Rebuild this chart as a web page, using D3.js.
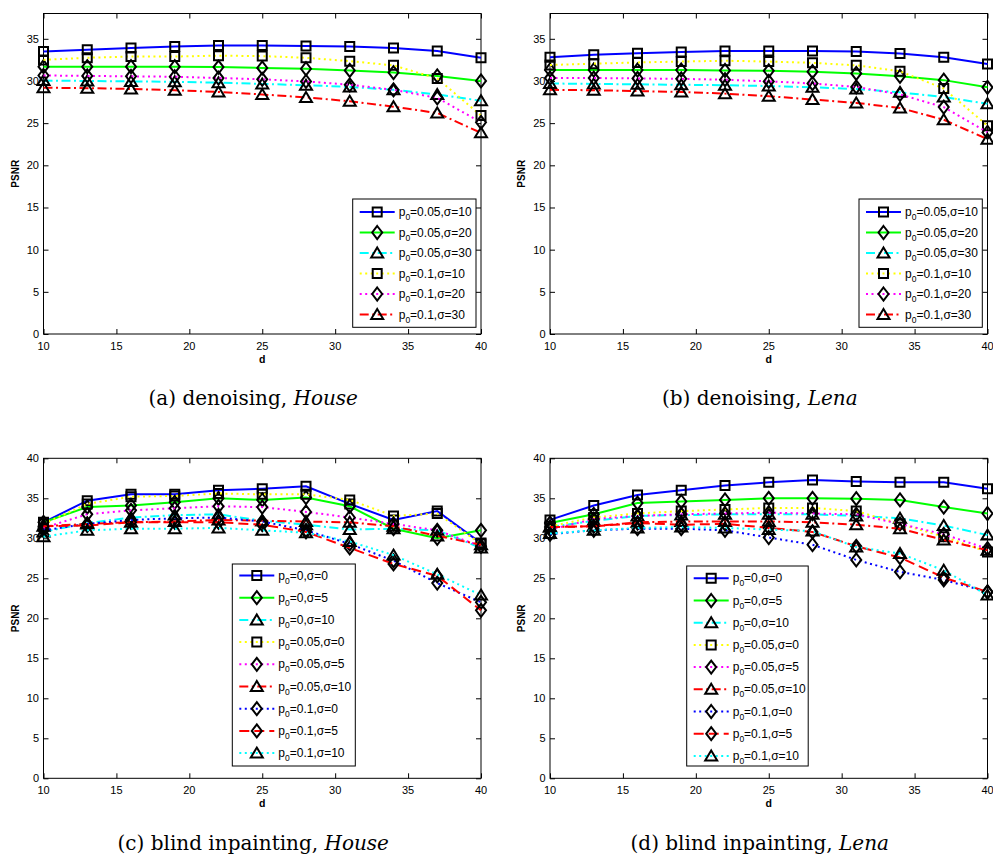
<!DOCTYPE html>
<html><head><meta charset="utf-8">
<script src="https://cdn.jsdelivr.net/npm/d3@7"></script>
<style>body{margin:0;background:#fff}</style>
</head><body>
<svg id="chart" width="993" height="859"></svg>
<script>
// ---------------- DATA ----------------
const dValues = [10, 13, 16, 19, 22, 25, 28, 31, 34, 37, 40];
const xTicks = [10, 15, 20, 25, 30, 35, 40];
const yTicksDenoise = [0, 5, 10, 15, 20, 25, 30, 35];
const yTicksInpaint = [0, 5, 10, 15, 20, 25, 30, 35, 40];

const denoiseP0 = ["0.05", "0.05", "0.05", "0.1", "0.1", "0.1"];
const denoiseSigma = ["10", "20", "30", "10", "20", "30"];
const inpaintP0 = ["0", "0", "0", "0.05", "0.05", "0.05", "0.1", "0.1", "0.1"];
const inpaintSigma = ["0", "5", "10", "0", "5", "10", "0", "5", "10"];

const denoiseHouse = [
  [33.5, 33.7, 33.9, 34.1, 34.2, 34.2, 34.15, 34.1, 33.9, 33.55, 32.75],
  [31.7, 31.7, 31.7, 31.7, 31.65, 31.55, 31.45, 31.25, 31.0, 30.6, 30.0],
  [30.05, 30.0, 29.95, 29.9, 29.8, 29.65, 29.5, 29.3, 28.95, 28.4, 27.65],
  [32.5, 32.75, 32.9, 32.9, 33.0, 32.95, 32.75, 32.35, 31.85, 30.3, 25.9],
  [30.65, 30.6, 30.55, 30.5, 30.35, 30.2, 29.95, 29.55, 28.95, 28.0, 25.1],
  [29.2, 29.15, 29.05, 28.9, 28.7, 28.4, 28.05, 27.6, 26.95, 26.2, 23.85]
];
const denoiseLena = [
  [32.8, 33.1, 33.3, 33.45, 33.55, 33.55, 33.55, 33.5, 33.25, 32.8, 32.0],
  [31.3, 31.3, 31.3, 31.3, 31.25, 31.2, 31.1, 30.9, 30.55, 30.1, 29.25],
  [29.7, 29.65, 29.6, 29.55, 29.5, 29.4, 29.25, 29.05, 28.65, 28.1, 27.3],
  [31.9, 32.05, 32.2, 32.3, 32.4, 32.3, 32.15, 31.85, 31.15, 29.1, 24.7],
  [30.35, 30.35, 30.3, 30.25, 30.15, 29.95, 29.7, 29.3, 28.4, 26.9, 23.9],
  [28.95, 28.9, 28.8, 28.7, 28.5, 28.2, 27.8, 27.4, 26.8, 25.4, 23.1]
];
const inpaintHouse = [
  [32.0, 34.7, 35.5, 35.5, 36.0, 36.2, 36.5, 34.3, 32.3, 33.4, 29.4],
  [32.0, 33.9, 34.1, 34.5, 35.0, 34.8, 35.1, 34.0, 31.2, 30.0, 31.0],
  [30.8, 31.9, 32.6, 32.9, 33.0, 32.2, 31.7, 31.1, 31.2, 31.0, 28.8],
  [31.8, 34.3, 35.2, 35.3, 35.6, 35.5, 35.5, 34.8, 32.8, 33.1, 29.3],
  [31.3, 33.0, 33.5, 33.75, 34.0, 33.9, 33.3, 32.6, 31.8, 31.0, 29.0],
  [31.5, 31.8, 32.0, 32.1, 32.3, 32.2, 32.1, 32.0, 31.5, 30.3, 29.2],
  [31.0, 31.8, 32.3, 32.5, 32.6, 32.1, 31.0, 29.3, 27.2, 24.4, 22.0],
  [31.5, 31.6, 32.0, 32.0, 32.0, 31.7, 30.8, 28.8, 26.8, 25.3, 21.0],
  [30.2, 31.0, 31.2, 31.2, 31.3, 31.0, 30.7, 29.6, 27.9, 25.5, 22.9]
];
const inpaintLena = [
  [32.3, 34.1, 35.4, 36.0, 36.6, 37.0, 37.3, 37.1, 37.0, 37.0, 36.2],
  [31.9, 33.0, 34.4, 34.6, 34.8, 35.0, 35.0, 34.95, 34.8, 33.9, 33.1],
  [31.4, 32.2, 32.8, 32.9, 33.0, 33.0, 33.0, 32.8, 32.5, 31.6, 30.4],
  [31.5, 32.6, 33.1, 33.4, 33.6, 33.8, 33.8, 33.4, 31.8, 30.2, 28.3],
  [31.1, 32.4, 32.8, 33.0, 33.1, 33.2, 33.1, 33.0, 31.8, 30.5, 28.7],
  [31.4, 31.5, 32.0, 32.1, 32.1, 32.1, 32.0, 31.7, 31.2, 29.8, 28.5],
  [30.5, 31.0, 31.2, 31.2, 31.0, 30.1, 29.2, 27.3, 25.8, 24.8, 23.3],
  [31.4, 31.5, 31.9, 31.7, 31.8, 31.3, 30.8, 29.0, 27.6, 25.1, 23.3],
  [30.6, 31.0, 31.3, 31.4, 31.3, 31.1, 30.9, 28.9, 28.1, 26.0, 22.9]
];

const captionTexts = ["(a) denoising, ", "(b) denoising, ", "(c) blind inpainting, ", "(d) blind inpainting, "];
const captionImages = ["House", "Lena", "House", "Lena"];
const xLabel = "d";
const yLabel = "PSNR";

// ---------------- STYLE ----------------
const denoiseColors = ["#0000ff", "#00ff00", "#00ffff", "#ffff00", "#ff00ff", "#ff0000"];
const denoiseDash = ["solid", "solid", "dashdot", "dot", "dot", "dashdot"];
const denoiseMarkers = ["square", "diamond", "triangle", "square", "diamond", "triangle"];
const inpaintColors = ["#0000ff", "#00ff00", "#00ffff", "#ffff00", "#ff00ff", "#ff0000", "#0000ff", "#ff0000", "#00ffff"];
const inpaintDash = ["solid", "solid", "dashdot", "dot", "dot", "dashdot", "dot", "dash", "dot"];
const inpaintMarkers = ["square", "diamond", "triangle", "square", "diamond", "triangle", "diamond", "diamond", "triangle"];

const dashArray = {solid: null, dashdot: "9,3.5,2,3.5", dot: "2,3.5", dash: "10,5"};
const markerPath = {
  square: "M-4.5,-4.5h9v9h-9Z",
  diamond: "M0,-6.5L5,0L0,6.5L-5,0Z",
  triangle: "M0,-5.5L6,4.5L-6,4.5Z"
};

const FONT = "'Liberation Sans', Arial, Helvetica, sans-serif";
const svg = d3.select("#chart");

const panels = [
  {data: denoiseHouse, p0: denoiseP0, sig: denoiseSigma, colors: denoiseColors, dash: denoiseDash, markers: denoiseMarkers,
   left: 43.5, right: 481, top: 13.5, bottom: 334, ymax: 38, yTicks: yTicksDenoise,
   legX: 352.7, legY: 199, legW: 123.3, legH: 128.3, legRow0: 212, legStep: 20.5, capY: 405, cap: 0},
  {data: denoiseLena, p0: denoiseP0, sig: denoiseSigma, colors: denoiseColors, dash: denoiseDash, markers: denoiseMarkers,
   left: 550, right: 987.5, top: 13.5, bottom: 334, ymax: 38, yTicks: yTicksDenoise,
   legX: 859, legY: 199, legW: 123.3, legH: 128.3, legRow0: 212, legStep: 20.5, capY: 405, cap: 1},
  {data: inpaintHouse, p0: inpaintP0, sig: inpaintSigma, colors: inpaintColors, dash: inpaintDash, markers: inpaintMarkers,
   left: 43.5, right: 481, top: 458.3, bottom: 778.3, ymax: 40, yTicks: yTicksInpaint,
   legX: 232.3, legY: 564, legW: 123, legH: 202, legRow0: 575.5, legStep: 22.2, capY: 850, cap: 2},
  {data: inpaintLena, p0: inpaintP0, sig: inpaintSigma, colors: inpaintColors, dash: inpaintDash, markers: inpaintMarkers,
   left: 550, right: 987.5, top: 458.3, bottom: 778.3, ymax: 40, yTicks: yTicksInpaint,
   legX: 686.7, legY: 566, legW: 121.5, legH: 200, legRow0: 578.3, legStep: 22.2, capY: 850, cap: 3}
];

panels.forEach(P => {
  const x = d3.scaleLinear().domain([10, 40]).range([P.left, P.right]);
  const y = d3.scaleLinear().domain([0, P.ymax]).range([P.bottom, P.top]);
  const g = svg.append("g");

  // frame
  g.append("rect").attr("x", P.left).attr("y", P.top)
    .attr("width", P.right - P.left).attr("height", P.bottom - P.top)
    .attr("fill", "#fff").attr("stroke", "#000").attr("stroke-width", 1);

  // inward ticks (all four sides) using axes
  const tl = 5;
  g.append("g").attr("transform", `translate(0,${P.bottom})`)
    .call(d3.axisTop(x).tickValues(xTicks).tickSize(tl).tickFormat(""))
    .call(a => a.select(".domain").remove());
  g.append("g").attr("transform", `translate(0,${P.top})`)
    .call(d3.axisBottom(x).tickValues(xTicks).tickSize(tl).tickFormat(""))
    .call(a => a.select(".domain").remove());
  g.append("g").attr("transform", `translate(${P.left},0)`)
    .call(d3.axisRight(y).tickValues(P.yTicks).tickSize(tl).tickFormat(""))
    .call(a => a.select(".domain").remove());
  g.append("g").attr("transform", `translate(${P.right},0)`)
    .call(d3.axisLeft(y).tickValues(P.yTicks).tickSize(tl).tickFormat(""))
    .call(a => a.select(".domain").remove());

  // tick labels
  g.selectAll(".xl").data(xTicks).enter().append("text")
    .attr("x", d => x(d)).attr("y", P.bottom + 16)
    .attr("text-anchor", "middle").attr("font-family", FONT).attr("font-size", 11)
    .text(d => d);
  g.selectAll(".yl").data(P.yTicks).enter().append("text")
    .attr("x", P.left - 4.5).attr("y", d => y(d) + 4)
    .attr("text-anchor", "end").attr("font-family", FONT).attr("font-size", 11)
    .text(d => d);

  // axis labels
  g.append("text").attr("x", (P.left + P.right) / 2).attr("y", P.bottom + 29)
    .attr("text-anchor", "middle").attr("font-family", FONT).attr("font-size", 10.5)
    .attr("font-weight", "bold").text(xLabel);
  g.append("text")
    .attr("transform", `translate(${P.left - 25},${(P.top + P.bottom) / 2}) rotate(-90)`)
    .attr("text-anchor", "middle").attr("font-family", FONT).attr("font-size", 10)
    .attr("font-weight", "bold").text(yLabel);

  // series
  const line = d3.line().x((d, i) => x(dValues[i])).y(d => y(d));
  P.data.forEach((vals, s) => {
    g.append("path").attr("d", line(vals))
      .attr("fill", "none").attr("stroke", P.colors[s]).attr("stroke-width", 2)
      .attr("stroke-dasharray", dashArray[P.dash[s]]);
    g.selectAll(null).data(vals).enter().append("path")
      .attr("d", markerPath[P.markers[s]])
      .attr("transform", (d, i) => `translate(${x(dValues[i])},${y(d)})`)
      .attr("fill", "none").attr("stroke", "#000").attr("stroke-width", 2);
  });

  // legend
  const lg = g.append("g");
  lg.append("rect").attr("x", P.legX).attr("y", P.legY).attr("width", P.legW).attr("height", P.legH)
    .attr("fill", "#fff").attr("stroke", "#000").attr("stroke-width", 1);
  P.p0.forEach((p, s) => {
    const ry = P.legRow0 + s * P.legStep;
    lg.append("line").attr("x1", P.legX + 7).attr("x2", P.legX + 42).attr("y1", ry).attr("y2", ry)
      .attr("stroke", P.colors[s]).attr("stroke-width", 2).attr("stroke-dasharray", dashArray[P.dash[s]]);
    lg.append("path").attr("d", markerPath[P.markers[s]])
      .attr("transform", `translate(${P.legX + 24.5},${ry})`)
      .attr("fill", "none").attr("stroke", "#000").attr("stroke-width", 2);
    const t = lg.append("text").attr("x", P.legX + 46).attr("y", ry + 4)
      .attr("font-family", FONT).attr("font-size", 12);
    t.append("tspan").text("p");
    t.append("tspan").attr("dy", 4).attr("font-size", 8.5).text("0");
    t.append("tspan").attr("dy", -4).text(`=${p},σ=${P.sig[s]}`);
  });

  // caption
  const cx = (P.left + P.right) / 2 - 9;
  const c = svg.append("text").attr("x", cx).attr("y", P.capY)
    .attr("text-anchor", "middle").attr("font-family", "'DejaVu Serif', 'Liberation Serif', serif")
    .attr("font-size", 20);
  c.append("tspan").text(captionTexts[P.cap]);
  c.append("tspan").attr("font-style", "italic").text(captionImages[P.cap]);
});
</script>
</body></html>
